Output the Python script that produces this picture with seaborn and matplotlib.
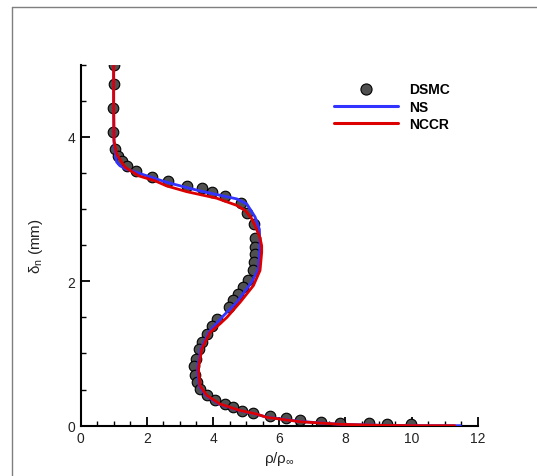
import matplotlib
matplotlib.use("Agg")
import matplotlib.pyplot as plt
from matplotlib.lines import Line2D
from matplotlib.ticker import MultipleLocator
import seaborn as sns
import pandas as pd

# ---- data ----
dsmc_x = [1.01, 1.01, 0.99, 0.99, 1.03, 1.14, 1.26, 1.40, 1.67, 2.17, 2.65, 3.21, 3.66, 3.96,
          4.37, 4.84, 5.04, 5.25, 5.27, 5.28, 5.27, 5.25, 5.22, 5.05, 4.92, 4.75, 4.60, 4.47,
          4.11, 3.96, 3.81, 3.66, 3.59, 3.48, 3.43, 3.45, 3.51, 3.61, 3.81, 4.06, 4.35, 4.60,
          4.87, 5.20, 5.72, 6.21, 6.63, 7.26, 7.84, 8.70, 9.25, 9.98]
dsmc_y = [5.00, 4.73, 4.40, 4.06, 3.83, 3.74, 3.67, 3.60, 3.53, 3.45, 3.39, 3.32, 3.29, 3.24,
          3.18, 3.09, 2.95, 2.79, 2.60, 2.48, 2.38, 2.27, 2.15, 2.02, 1.92, 1.82, 1.74, 1.65,
          1.48, 1.38, 1.27, 1.16, 1.06, 0.93, 0.82, 0.70, 0.60, 0.51, 0.42, 0.35, 0.30, 0.26,
          0.21, 0.17, 0.13, 0.10, 0.08, 0.055, 0.037, 0.035, 0.025, 0.022]

ns_x = [1.00, 1.00, 1.01, 1.09, 1.19, 1.34, 1.80, 2.60, 3.61, 4.72, 5.02, 5.27, 5.40, 5.42,
        5.37, 5.17, 4.72, 4.31, 3.88, 3.63, 3.53, 3.58, 3.78, 4.18, 4.80, 5.30, 5.60, 6.60,
        7.80, 9.10, 10.30, 11.47]
ns_y = [5.00, 4.40, 3.92, 3.65, 3.60, 3.56, 3.49, 3.37, 3.25, 3.14, 3.07, 2.89, 2.72, 2.49,
        2.17, 1.99, 1.71, 1.52, 1.30, 1.06, 0.79, 0.55, 0.42, 0.30, 0.21, 0.16, 0.12, 0.06,
        0.02, 0.005, 0.0, 0.0]

nccr_x = [1.00, 1.00, 1.01, 1.09, 1.34, 1.75, 2.25, 2.60, 3.21, 4.11, 4.72, 4.97, 5.15, 5.27,
          5.42, 5.47, 5.47, 5.42, 5.22, 4.82, 4.42, 4.21, 3.91, 3.66, 3.56, 3.61, 3.81, 4.21,
          4.82, 5.32, 5.62, 6.63, 7.84, 9.10, 10.30, 11.30]
nccr_y = [5.00, 4.40, 3.95, 3.76, 3.58, 3.46, 3.39, 3.32, 3.24, 3.15, 3.05, 2.98, 2.88, 2.77,
          2.60, 2.49, 2.40, 2.15, 1.94, 1.71, 1.50, 1.41, 1.29, 1.06, 0.79, 0.55, 0.42, 0.30,
          0.21, 0.16, 0.116, 0.055, 0.019, 0.004, 0.0, 0.0]

x_ticks = [0, 2, 4, 6, 8, 10, 12]
y_ticks = [0, 2, 4]

# ---- style ----
sns.set_style("ticks")
plt.rcParams["font.family"] = ["Liberation Sans", "DejaVu Sans"]
plt.rcParams["mathtext.fontset"] = "custom"
plt.rcParams["mathtext.rm"] = "Liberation Sans"
plt.rcParams["mathtext.it"] = "Liberation Sans"

fig = plt.figure(figsize=(5.37, 4.77), dpi=100)
ax = fig.add_axes([0.150, 0.1055, 0.740, 0.757])

df_dsmc = pd.DataFrame({"x": dsmc_x, "y": dsmc_y})
df_ns = pd.DataFrame({"x": ns_x, "y": ns_y})
df_nccr = pd.DataFrame({"x": nccr_x, "y": nccr_y})

sns.lineplot(data=df_ns, x="x", y="y", sort=False, estimator=None, ax=ax,
             color="#3333ff", linewidth=2.0, zorder=3)
sns.scatterplot(data=df_dsmc, x="x", y="y", ax=ax, s=58, color="#505050",
                edgecolor="black", linewidth=0.8, zorder=2)
sns.lineplot(data=df_nccr, x="x", y="y", sort=False, estimator=None, ax=ax,
             color="#dd0000", linewidth=2.0, zorder=4)

ax.set_xlim(0, 12)
ax.set_ylim(0, 5)
ax.set_xticks(x_ticks)
ax.set_yticks(y_ticks)
ax.xaxis.set_minor_locator(MultipleLocator(0.5))
ax.yaxis.set_minor_locator(MultipleLocator(0.5))
ax.tick_params(which="major", direction="in", length=6.5, width=1.3, labelsize=10,
               colors="black", labelcolor="#222222")
ax.tick_params(which="minor", direction="in", length=3.5, width=1.0, colors="black")
ax.tick_params(axis="x", pad=4)
ax.tick_params(axis="y", pad=4)
for s in ["top", "right"]:
    ax.spines[s].set_visible(False)
for s in ["left", "bottom"]:
    ax.spines[s].set_linewidth(1.5)
    ax.spines[s].set_color("black")

ax.set_xlabel("ρ/ρ$_{\\infty}$", fontsize=11, labelpad=3, color="#222222")
ax.set_ylabel("δ$_{\\mathrm{n}}$ (mm)", fontsize=11, labelpad=16, color="#222222")

handles = [
    Line2D([], [], linestyle="none", marker="o", markersize=8, markerfacecolor="#505050",
           markeredgecolor="black", markeredgewidth=0.8),
    Line2D([], [], color="#3333ff", linewidth=2.2),
    Line2D([], [], color="#dd0000", linewidth=2.2),
]
leg = ax.legend(handles, ["DSMC", "NS", "NCCR"], loc="upper left",
                bbox_to_anchor=(0.62, 0.97), frameon=False, borderpad=0,
                handlelength=4.6, handletextpad=0.8, labelspacing=0.25,
                prop={"weight": "bold", "size": 10})
for t in leg.get_texts():
    t.set_color("black")

# gray frame lines at top and left of the figure
fig.add_artist(Line2D([0.0223, 1.0], [0.983, 0.983], transform=fig.transFigure,
                      color="#7f7f7f", linewidth=1.0))
fig.add_artist(Line2D([0.0223, 0.0223], [0.0, 0.983], transform=fig.transFigure,
                      color="#7f7f7f", linewidth=1.0))

fig.savefig("out.png", dpi=100)
